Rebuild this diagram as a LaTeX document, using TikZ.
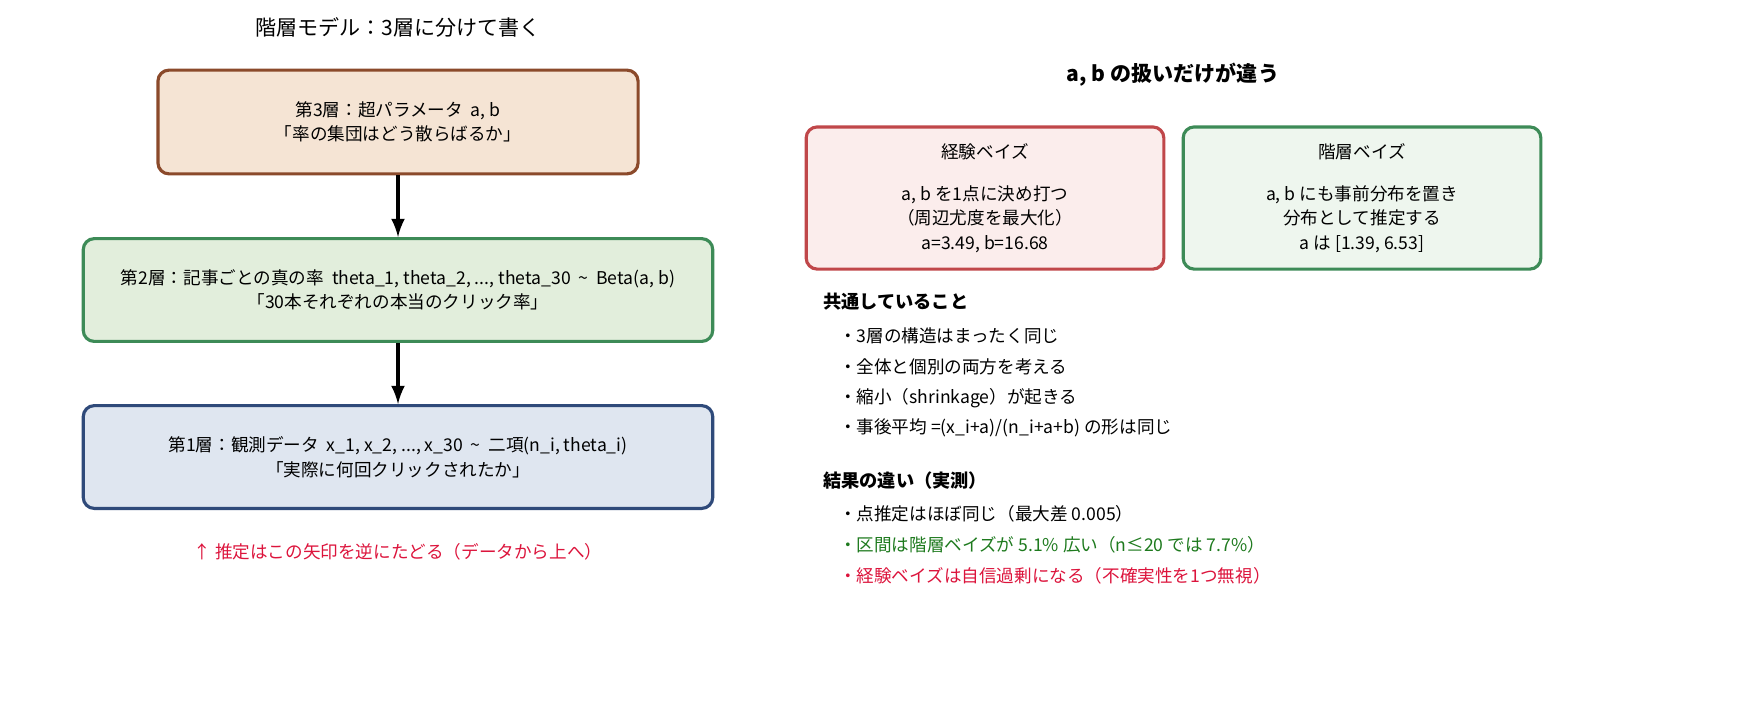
\documentclass[tikz,border=0pt]{standalone}
\usepackage{fontspec}
\setmainfont{Noto Sans CJK JP}
\definecolor{brownE}{HTML}{8B4A2B}\definecolor{brownF}{HTML}{F5E4D4}
\definecolor{greenE}{HTML}{3D8B57}\definecolor{greenF}{HTML}{E2EEDC}
\definecolor{blueE}{HTML}{2F4A7A}\definecolor{blueF}{HTML}{DFE6F0}
\definecolor{redE}{HTML}{C0474A}\definecolor{redF}{HTML}{FBEDEC}
\definecolor{hbF}{HTML}{EEF6EE}
\definecolor{noteRed}{HTML}{DC143C}\definecolor{okGreen}{HTML}{1E7A1E}
\tikzset{
  layer/.style={draw=#1,line width=1pt,rounded corners=3.5pt,align=center,inner sep=0pt,font=\fontsize{5.6}{7.8}\selectfont},
  txt/.style={font=\fontsize{5.6}{7.8}\selectfont,anchor=west},
  hd/.style={font=\fontsize{5.8}{7.8}\selectfont\bfseries,anchor=west}
}
\begin{document}
\begin{tikzpicture}[x=0.01118cm,y=-0.01118cm]
  \useasboundingbox (0,0) rectangle (1755,702);
  \node[font=\fontsize{6.7}{9}\selectfont] (title) at (398,27) {階層モデル：3層に分けて書く};
  % left column
  \node[layer=brownE,fill=brownF,minimum width=5.37cm,minimum height=1.16cm] (l3) at (398,122)
    {第3層：超パラメータ\ \ a, b\\「率の集団はどう散らばるか」};
  \node[layer=greenE,fill=greenF,minimum width=7.04cm,minimum height=1.15cm] (l2) at (398,290)
    {第2層：記事ごとの真の率\ \ theta\_1, theta\_2, ..., theta\_30\ \ \textasciitilde\ \ Beta(a, b)\\「30本それぞれの本当のクリック率」};
  \node[layer=blueE,fill=blueF,minimum width=7.04cm,minimum height=1.15cm] (l1) at (398,457)
    {第1層：観測データ\ \ x\_1, x\_2, ..., x\_30\ \ \textasciitilde\ \ 二項(n\_i, theta\_i)\\「実際に何回クリックされたか」};
  \draw[-latex,line width=1pt] (l3) -- (l2);
  \draw[-latex,line width=1pt] (l2) -- (l1);
  \node[font=\fontsize{5.6}{7.8}\selectfont,text=noteRed] (note) at (398,552) {↑ 推定はこの矢印を逆にたどる（データから上へ）};
  % right column
  \node[font=\fontsize{6.7}{9}\selectfont\bfseries] (rtitle) at (1173,75) {a, b の扱いだけが違う};
  \node[layer=redE,fill=redF,minimum width=4.0cm,minimum height=1.59cm] (eb) at (985,198)
    {経験ベイズ\\[5.6pt]a, b を1点に決め打つ\\（周辺尤度を最大化）\\a=3.49, b=16.68};
  \node[layer=greenE,fill=hbF,minimum width=4.0cm,minimum height=1.59cm] (hb) at (1362,198)
    {階層ベイズ\\[5.6pt]a, b にも事前分布を置き\\分布として推定する\\a は [1.39, 6.53]};
  \node[hd] (common) at (812,302) {共通していること};
  \node[txt] (c1) at (828,336) {・3層の構造はまったく同じ};
  \node[txt] (c2) at (828,367) {・全体と個別の両方を考える};
  \node[txt] (c3) at (828,398) {・縮小（shrinkage）が起きる};
  \node[txt] (c4) at (828,428) {・事後平均 =(x\_i+a)/(n\_i+a+b) の形は同じ};
  \node[hd] (diff) at (812,481) {結果の違い（実測）};
  \node[txt] (d1) at (828,514) {・点推定はほぼ同じ（最大差 0.005）};
  \node[txt,text=okGreen] (d2) at (828,545) {・区間は階層ベイズが 5.1\% 広い（n≤20 では 7.7\%）};
  \node[txt,text=noteRed] (d3) at (828,576) {・経験ベイズは自信過剰になる（不確実性を1つ無視）};
\end{tikzpicture}
\end{document}
